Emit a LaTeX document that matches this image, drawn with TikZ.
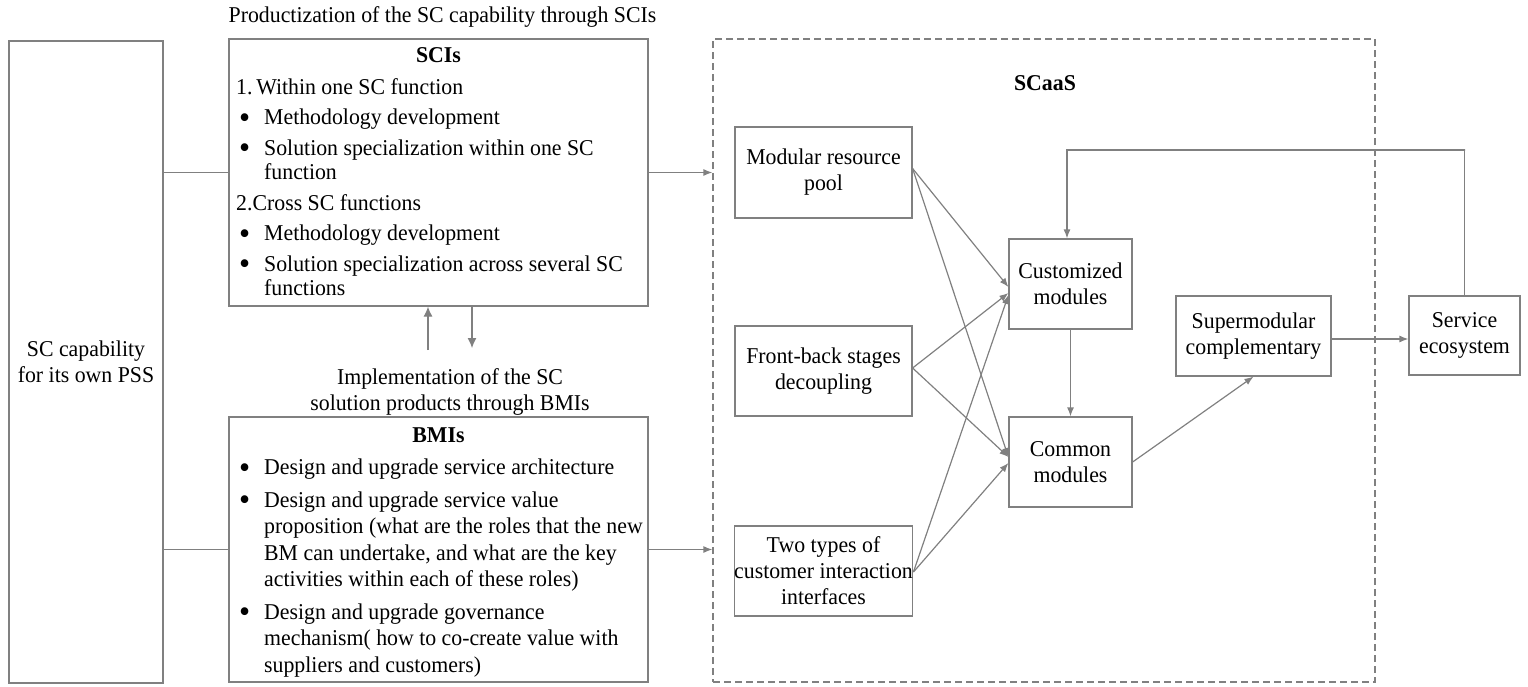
\documentclass[tikz,border=0pt]{standalone}
\usepackage{fontspec}
\setmainfont{Liberation Serif}[FakeStretch=0.965]
\usetikzlibrary{arrows.meta,calc}
\definecolor{linegray}{RGB}{128,128,128}
% bullet line and continuation line of a hanging list
\newcommand{\bitem}{\hspace*{3pt}\makebox[25pt][l]{\raisebox{-3.5pt}{\scalebox{1.45}{\textbullet}}}}
\newcommand{\bcont}{\hspace*{28pt}}
\newcommand{\txtsize}{\fontsize{22.6}{26}\selectfont}
\begin{document}
\begin{tikzpicture}[x=1pt,y=-1pt,
  every node/.style={font=\txtsize, text=black},
  box/.style={draw=linegray, line width=1.2pt, inner sep=0pt, align=center},
  link/.style={draw=linegray, line width=1.2pt},
  arr/.style={link, -{Latex[length=9pt,width=7pt]}},
  bigarr/.style={link, -{Latex[length=10pt,width=9pt]}},
]
\useasboundingbox (0,0) rectangle (1528,686);

% left column
\node[box, minimum width=154pt, minimum height=642pt] (own) at (86,362)
  {SC capability\\for its own PSS};

% SCIs block
\node (prodtitle) at (442.5,17) {Productization of the SC capability through SCIs};
\node[box, minimum width=419pt, minimum height=267pt] (scis) at (438.5,172.5) {};
\node[anchor=base, font=\txtsize\bfseries] (scishead) at (438.5,62) {SCIs};
\node[anchor=north west, align=left, inner sep=0pt,
      font=\fontsize{22.6}{24.5}\selectfont] (scislist) at (236,78)
  {1.\,Within one SC function\\[6pt]
   \bitem Methodology development\\[6pt]
   \bitem Solution specialization within one SC\\
   \bcont function\\[6pt]
   2.Cross SC functions\\[6pt]
   \bitem Methodology development\\[6pt]
   \bitem Solution specialization across several SC\\
   \bcont functions};

% label between the two blocks
\node[align=center] (impl) at (450,392)
  {Implementation of the SC\\solution products through BMIs};

% BMIs block
\node[box, minimum width=419pt, minimum height=265pt] (bmis) at (438.5,549.5) {};
\node[anchor=base, font=\txtsize\bfseries] (bmishead) at (438.5,442) {BMIs};
\node[anchor=north west, align=left, inner sep=0pt,
      font=\fontsize{22.6}{26.5}\selectfont] (bmislist) at (236,459)
  {\bitem Design and upgrade service architecture\\[6pt]
   \bitem Design and upgrade service value\\
   \bcont proposition (what are the roles that the new\\
   \bcont BM can undertake, and what are the key\\
   \bcont activities within each of these roles)\\[6pt]
   \bitem Design and upgrade governance\\
   \bcont mechanism( how to co-create value with\\
   \bcont suppliers and customers)};

% SCaaS frame
\node[draw=linegray, line width=1.2pt, dash pattern=on 7pt off 4pt,
      minimum width=662pt, minimum height=643pt, inner sep=0pt] (scaas) at (1044,360.5) {};
\node[font=\txtsize\bfseries] (scaashead) at (1045,83) {SCaaS};

\node[box, minimum width=177pt, minimum height=91pt] (pool) at (823.5,172.5)
  {Modular resource\\pool};
\node[box, minimum width=177pt, minimum height=90pt] (stage) at (823.5,371)
  {Front-back stages\\decoupling};
\node[box, minimum width=177pt, minimum height=90pt] (iface) at (823.5,571)
  {Two types of\\customer interaction\\interfaces};
\node[box, minimum width=123pt, minimum height=90pt] (cust) at (1070.5,284)
  {Customized\\modules};
\node[box, minimum width=123pt, minimum height=90pt] (common) at (1070.5,462)
  {Common\\modules};
\node[box, minimum width=155pt, minimum height=80pt] (super) at (1253.5,336)
  {Supermodular\\complementary};
\node[box, minimum width=111pt, minimum height=79pt] (eco) at (1464.5,335.5)
  {Service\\ecosystem};

% left column to the two blocks
\draw[link] (own.east |- scis.west) -- (scis.west);
\draw[link] (own.east |- bmis.west) -- (bmis.west);

% blocks into the SCaaS frame
\draw[arr] (scis.east) -- (scis.east -| scaas.west);
\draw[arr] (bmis.east) -- (bmis.east -| scaas.west);

% exchange between SCIs and BMIs
\coordinate (upfoot) at (428,350);
\coordinate (downtip) at (472,348);
\draw[bigarr] (upfoot) -- (upfoot |- scis.south);
\draw[bigarr] (downtip |- scis.south) -- (downtip);

% inputs to the module types
\draw[arr] ($(pool.east)+(0,-4)$) -- ($(cust.west)+(0,3)$);
\draw[arr] ($(pool.east)+(0,-4)$) -- ($(common.west)+(0,-5)$);
\draw[arr] ($(stage.east)+(0,-3)$) -- ($(cust.west)+(0,9)$);
\draw[arr] ($(stage.east)+(0,-3)$) -- ($(common.west)+(0,-5)$);
\draw[arr] ($(iface.east)+(0,1)$) -- ($(cust.west)+(0,11)$);
\draw[arr] ($(iface.east)+(0,1)$) -- ($(common.west)+(0,1)$);

% module flow
\draw[arr] (cust.south) -- (common.north);
\draw[arr] (common.east) -- (super.south);
\draw[arr] (super.east |- 0,339) -- (eco.west |- 0,339);

% feedback from the ecosystem
\coordinate (fbcorner) at (1465,150);
\draw[arr] (eco.north) |- (fbcorner) -| ($(cust.north)+(-3.5,0)$);
\end{tikzpicture}
\end{document}
